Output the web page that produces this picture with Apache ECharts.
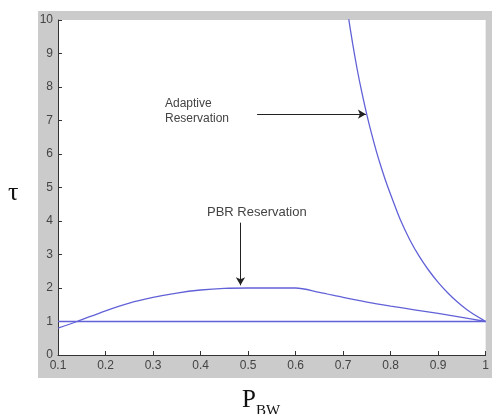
<!DOCTYPE html>
<html><head><meta charset="utf-8">
<script src="https://cdn.jsdelivr.net/npm/echarts@6/dist/echarts.min.js"></script>
<style>html,body{margin:0;padding:0;background:#fff}#c{width:492px;height:414px}</style>
</head><body><div id="c"></div>
<script>
// Data
const xTicks = [0.1,0.2,0.3,0.4,0.5,0.6,0.7,0.8,0.9,1];
const yTicks = [0,1,2,3,4,5,6,7,8,9,10];
const baseX = [0.1, 1.0];
const baseY = [1, 1];
const pbrX = [0.1,0.14,0.2,0.25,0.3,0.35,0.4,0.45,0.5,0.55,0.6,0.65,0.7,0.75,0.8,0.85,0.9,0.95,1.0];
const pbrY = [0.8,1.0,1.32,1.55,1.72,1.85,1.94,1.99,2.0,2.0,2.0,1.87,1.72,1.58,1.46,1.35,1.24,1.12,1.0];
const adaptX = [0.70,0.71,0.72,0.73,0.74,0.75,0.76,0.77,0.78,0.79,0.80,0.82,0.84,0.86,0.88,0.90,0.92,0.94,0.96,0.98,1.00];
const adaptY = [11.2,10.2,9.3,8.5,7.8,7.17,6.6,6.08,5.61,5.18,4.79,4.05,3.45,2.95,2.53,2.17,1.86,1.59,1.36,1.17,1.0];
const adaptArrow = [[0.519,7.19],[0.748,7.19]];
const pbrArrow = [[0.484,3.95],[0.484,2.08]];

const zip = (xs, ys) => xs.map((x,i)=>[x, ys[i]]);
const lineColor = '#6262d8';
const chart = echarts.init(document.getElementById('c'), null, {renderer:'canvas'});
const labelFont = {fontFamily:'Liberation Sans, Arial, sans-serif', fontSize:12, color:'#444'};
chart.setOption({
  animation:false,
  grid:{left:58, top:20, width:429, height:335, backgroundColor:'#fff', show:true, borderWidth:0},
  xAxis:{type:'value', min:0.1, max:1, interval:0.1,
    axisLine:{show:true, onZero:false, lineStyle:{color:'#333', width:1}},
    axisTick:{show:true, inside:true, length:4, lineStyle:{color:'#333'}},
    splitLine:{show:false},
    axisLabel:Object.assign({margin:5, formatter:v=>{const r=Math.round(v*10)/10; return xTicks.includes(r)?String(r):'';}}, labelFont)},
  yAxis:{type:'value', min:0, max:10, interval:1,
    axisLine:{show:true, onZero:false, lineStyle:{color:'#333', width:1}},
    axisTick:{show:true, inside:true, length:4, lineStyle:{color:'#333'}},
    splitLine:{show:false},
    axisLabel:Object.assign({margin:5, formatter:v=>yTicks.includes(v)?String(v):''}, labelFont)},
  graphic:[
    {type:'rect', z:-10, silent:true, shape:{x:38,y:11,width:454,height:367}, style:{fill:'#cbcbcb'}},
    {type:'text', left:165, top:98, style:{text:'Adaptive', font:'12px "Liberation Sans", Arial, sans-serif', fill:'#444'}},
    {type:'text', left:165, top:113, style:{text:'Reservation', font:'12px "Liberation Sans", Arial, sans-serif', fill:'#444'}},
    {type:'text', left:207, top:206, style:{text:'PBR Reservation', font:'13px "Liberation Sans", Arial, sans-serif', fill:'#444'}},
    {type:'text', left:8, top:180, style:{text:'τ', font:'26px "Liberation Serif", "Times New Roman", serif', fill:'#111'}},
    {type:'text', left:242, top:388, style:{text:'{a|P}{b|BW}', rich:{
      a:{fontFamily:'Liberation Serif, Times New Roman, serif', fontSize:25, fill:'#111', verticalAlign:'bottom'},
      b:{fontFamily:'Liberation Serif, Times New Roman, serif', fontSize:15, fill:'#111', verticalAlign:'bottom', padding:[0,0,-6,0]}}}}
  ],
  series:[
    {type:'line', data:zip(baseX, baseY), showSymbol:false, symbol:'none', lineStyle:{color:lineColor, width:1.3}},
    {type:'line', data:zip(pbrX, pbrY), showSymbol:false, symbol:'none', smooth:0.3, lineStyle:{color:lineColor, width:1.3},
      markLine:{silent:true, symbol:['none','arrow'], symbolSize:[7,8], label:{show:false}, lineStyle:{color:'#222', width:1, type:'solid'},
        data:[[{coord:pbrArrow[0]},{coord:pbrArrow[1]}]]}},
    {type:'line', data:zip(adaptX, adaptY), showSymbol:false, symbol:'none', smooth:0.3, clip:true, lineStyle:{color:lineColor, width:1.3},
      markLine:{silent:true, symbol:['none','arrow'], symbolSize:[7,8], label:{show:false}, lineStyle:{color:'#222', width:1, type:'solid'},
        data:[[{coord:adaptArrow[0]},{coord:adaptArrow[1]}]]}}
  ]
});
</script></body></html>
